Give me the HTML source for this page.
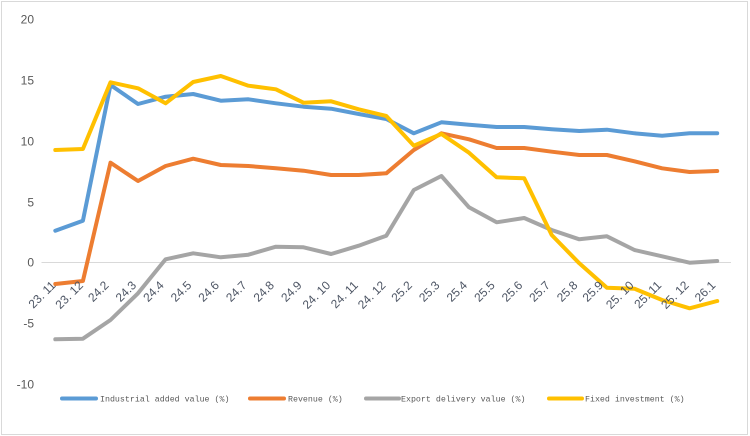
<!DOCTYPE html>
<html><head><meta charset="utf-8"><style>
html,body{margin:0;padding:0;background:#fff;}
svg{display:block;}
</style></head><body>
<svg width="750" height="436" viewBox="0 0 750 436" xmlns="http://www.w3.org/2000/svg">
<rect x="0" y="0" width="750" height="436" fill="#fff"/>
<rect x="1.5" y="1.5" width="746" height="433" fill="none" stroke="#d9d9d9" stroke-width="1"/>
<g font-family="Liberation Sans, sans-serif" font-size="12" fill="#595959" text-anchor="end">
<text x="34" y="23.5">20</text>
<text x="34" y="84.5">15</text>
<text x="34" y="145.5">10</text>
<text x="34" y="206.5">5</text>
<text x="34" y="266.5">0</text>
<text x="34" y="327.5">-5</text>
<text x="34" y="388.5">-10</text>
</g>
<line x1="41.5" y1="262.5" x2="731" y2="262.5" stroke="#d9d9d9" stroke-width="1"/>
<g fill="none" stroke-width="4" stroke-linejoin="round" stroke-linecap="round">
<polyline stroke="#5b9bd5" points="55.3,230.7 82.9,220.7 110.5,85 138,104 165.6,96.7 193.2,94 220.8,100.7 248.4,99.3 275.9,103.3 303.5,106.7 331.1,108.7 358.7,114 386.3,119 413.8,133.3 441.4,122.3 469,124.7 496.6,127 524.2,127 551.7,129.3 579.3,131 606.9,129.7 634.5,133.3 662.1,135.7 689.6,133.3 717.2,133.3"/>
<polyline stroke="#ed7d31" points="55.3,284 82.9,281 110.5,162.7 138,181 165.6,166 193.2,158.7 220.8,165 248.4,166 275.9,168.3 303.5,170.7 331.1,175 358.7,175 386.3,173.3 413.8,150 441.4,133.3 469,139.3 496.6,148 524.2,148 551.7,151.7 579.3,155 606.9,155 634.5,161.3 662.1,168.3 689.6,172 717.2,171"/>
<polyline stroke="#a5a5a5" points="55.3,339.3 82.9,338.7 110.5,320 138,293.3 165.6,259.3 193.2,253.3 220.8,257.3 248.4,254.7 275.9,246.7 303.5,247.3 331.1,254 358.7,245.7 386.3,235.7 413.8,190 441.4,176 469,207.3 496.6,222.3 524.2,218 551.7,230 579.3,239.3 606.9,236.3 634.5,250 662.1,256.3 689.6,262.7 717.2,261"/>
<polyline stroke="#ffc000" points="55.3,150 82.9,149 110.5,82.3 138,88.3 165.6,103.3 193.2,82 220.8,76 248.4,85.7 275.9,89.3 303.5,102.7 331.1,101.3 358.7,109.3 386.3,116 413.8,145.7 441.4,134 469,152.7 496.6,177.3 524.2,178.3 551.7,235 579.3,263.3 606.9,287.7 634.5,288.7 662.1,300 689.6,308.3 717.2,301"/>
</g>
<g font-family="Liberation Sans, sans-serif" font-size="12" fill="#4d5564" text-anchor="end">
<text transform="translate(56.3,286) rotate(-45)">23. 11</text>
<text transform="translate(83.9,286) rotate(-45)">23. 12</text>
<text transform="translate(109.5,286) rotate(-45)">24.2</text>
<text transform="translate(137,286) rotate(-45)">24.3</text>
<text transform="translate(164.6,286) rotate(-45)">24.4</text>
<text transform="translate(192.2,286) rotate(-45)">24.5</text>
<text transform="translate(219.8,286) rotate(-45)">24.6</text>
<text transform="translate(247.4,286) rotate(-45)">24.7</text>
<text transform="translate(274.9,286) rotate(-45)">24.8</text>
<text transform="translate(302.5,286) rotate(-45)">24.9</text>
<text transform="translate(331.1,286) rotate(-45)">24. 10</text>
<text transform="translate(358.7,286) rotate(-45)">24. 11</text>
<text transform="translate(386.3,286) rotate(-45)">24. 12</text>
<text transform="translate(412.8,286) rotate(-45)">25.2</text>
<text transform="translate(440.4,286) rotate(-45)">25.3</text>
<text transform="translate(468,286) rotate(-45)">25.4</text>
<text transform="translate(495.6,286) rotate(-45)">25.5</text>
<text transform="translate(523.2,286) rotate(-45)">25.6</text>
<text transform="translate(550.7,286) rotate(-45)">25.7</text>
<text transform="translate(578.3,286) rotate(-45)">25.8</text>
<text transform="translate(603.9,286) rotate(-45)">25.9</text>
<text transform="translate(634.5,286) rotate(-45)">25. 10</text>
<text transform="translate(662.1,286) rotate(-45)">25. 11</text>
<text transform="translate(689.6,286) rotate(-45)">25. 12</text>
<text transform="translate(716.2,286) rotate(-45)">26.1</text>
</g>
<g stroke-width="4" stroke-linecap="round">
<line x1="62" y1="398.5" x2="96" y2="398.5" stroke="#5b9bd5"/>
<line x1="250" y1="398.5" x2="284" y2="398.5" stroke="#ed7d31"/>
<line x1="366" y1="398.5" x2="399" y2="398.5" stroke="#a5a5a5"/>
<line x1="549" y1="398.5" x2="582" y2="398.5" stroke="#ffc000"/>
</g>
<g font-family="Liberation Mono, monospace" font-size="8.3" fill="#595959">
<text x="100" y="401.5">Industrial added value (%)</text>
<text x="288" y="401.5">Revenue (%)</text>
<text x="401" y="401.5">Export delivery value (%)</text>
<text x="585" y="401.5">Fixed investment (%)</text>
</g>
</svg>
</body></html>
